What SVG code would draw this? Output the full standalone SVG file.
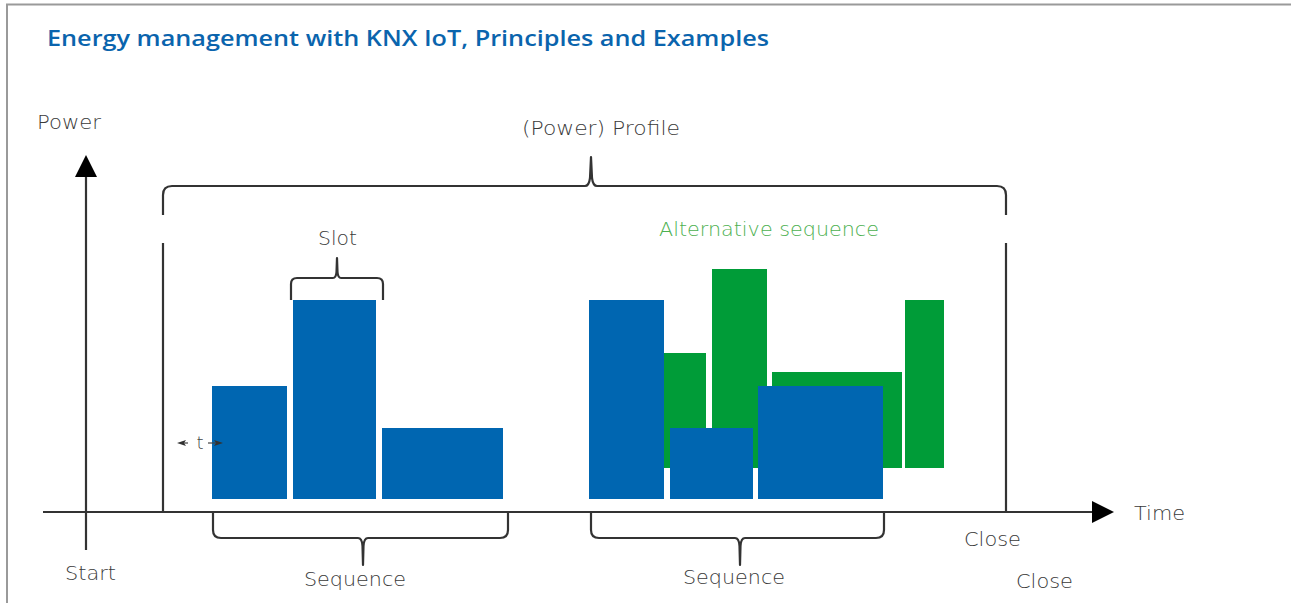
<svg xmlns="http://www.w3.org/2000/svg" width="1291" height="603" viewBox="0 0 1291 603">
<defs>
<style>
.lbl{font-family:"DejaVu Sans","Open Sans",sans-serif;font-weight:200;font-size:19px;fill:#3a3a3a}
.title{font-family:"Open Sans","Liberation Sans",sans-serif;font-weight:600;font-size:22px;fill:#0a64ad}
.alt{fill:#4cb050}
.ln{fill:none;stroke:#333;stroke-width:2.2;stroke-linejoin:round}
.blue{fill:#0066b1}
.green{fill:#009c38}
</style>
</defs>
<rect width="1291" height="603" fill="#fff"/>
<path d="M7 603 V4.5 H1291" fill="none" stroke="#9a9a9a" stroke-width="2"/>
<text class="title" x="47" y="46" textLength="722" lengthAdjust="spacingAndGlyphs">Energy management with KNX IoT, Principles and Examples</text>

<g id="connectors">
<path class="ln" d="M86 176 V550"/>
<polygon points="86,155 75,177 97,177" fill="#000"/>
<path class="ln" d="M43 512 H1094"/>
<polygon points="1092,501 1114,512 1092,523" fill="#000"/>
<path class="ln" d="M163 215 V195 Q163 186 172 186 H585 Q589 186 590 178 L591 157 L592 178 Q593 186 597 186 H997 Q1006 186 1006 195 V215"/>
<path class="ln" d="M163 243 V512"/>
<path class="ln" d="M1006 243 V512"/>
</g>

<g id="seq1">
<rect class="blue" x="212" y="386" width="75" height="113"/>
<rect class="blue" x="293" y="300" width="83" height="199"/>
<rect class="blue" x="382" y="428" width="121" height="71"/>
</g>

<g id="slot">
<path class="ln" d="M291 300 V284 Q291 278 297 278 H333 Q336 278 336.5 272 L337 258 L337.5 272 Q338 278 341 278 H377 Q383 278 383 284 V300"/>
<text class="lbl" x="318" y="245" textLength="39" lengthAdjust="spacingAndGlyphs">Slot</text>
</g>

<g id="t-marker">
<path d="M188 443 H184" stroke="#444" stroke-width="1.2"/>
<polygon points="177,443 186,440 184,443 186,446" fill="#333"/>
<text x="200" y="449" text-anchor="middle" style="font-family:'DejaVu Sans','Open Sans',sans-serif;font-weight:200;font-size:18px;fill:#444">t</text>
<path d="M208 443 H216" stroke="#444" stroke-width="1.2"/>
<polygon points="223,443 214,440 216,443 214,446" fill="#333"/>
</g>

<g id="seq2">
<rect class="green" x="660" y="353" width="46" height="115"/>
<rect class="green" x="712" y="269" width="55" height="199"/>
<rect class="green" x="772" y="372" width="130" height="96"/>
<rect class="green" x="905" y="300" width="39" height="168"/>
<rect class="blue" x="589" y="300" width="75" height="199"/>
<rect class="blue" x="670" y="428" width="83" height="71"/>
<rect class="blue" x="758" y="386" width="125" height="113"/>
</g>

<g id="brackets-bottom">
<path class="ln" d="M213 513 V530 Q213 538 221 538 H358 Q362 538 362.5 546 L363 565 L363.5 546 Q364 538 368 538 H500 Q508 538 508 530 V513"/>
<path class="ln" d="M591 513 V530 Q591 538 599 538 H735 Q739 538 739.5 546 L740 565 L740.5 546 Q741 538 745 538 H876 Q884 538 884 530 V513"/>
</g>

<g id="labels">
<text class="lbl" x="37" y="129" textLength="64" lengthAdjust="spacingAndGlyphs">Power</text>
<text class="lbl" x="522" y="135" textLength="158" lengthAdjust="spacingAndGlyphs">(Power) Profile</text>
<text class="lbl alt" x="659" y="236" textLength="220" lengthAdjust="spacingAndGlyphs">Alternative sequence</text>
<text class="lbl" x="65" y="580" textLength="51" lengthAdjust="spacingAndGlyphs">Start</text>
<text class="lbl" x="304" y="586" textLength="102" lengthAdjust="spacingAndGlyphs">Sequence</text>
<text class="lbl" x="683" y="584" textLength="102" lengthAdjust="spacingAndGlyphs">Sequence</text>
<text class="lbl" x="964" y="546" textLength="57" lengthAdjust="spacingAndGlyphs">Close</text>
<text class="lbl" x="1016" y="588" textLength="57" lengthAdjust="spacingAndGlyphs">Close</text>
<text class="lbl" x="1134" y="520" textLength="51" lengthAdjust="spacingAndGlyphs">Time</text>
</g>
</svg>
